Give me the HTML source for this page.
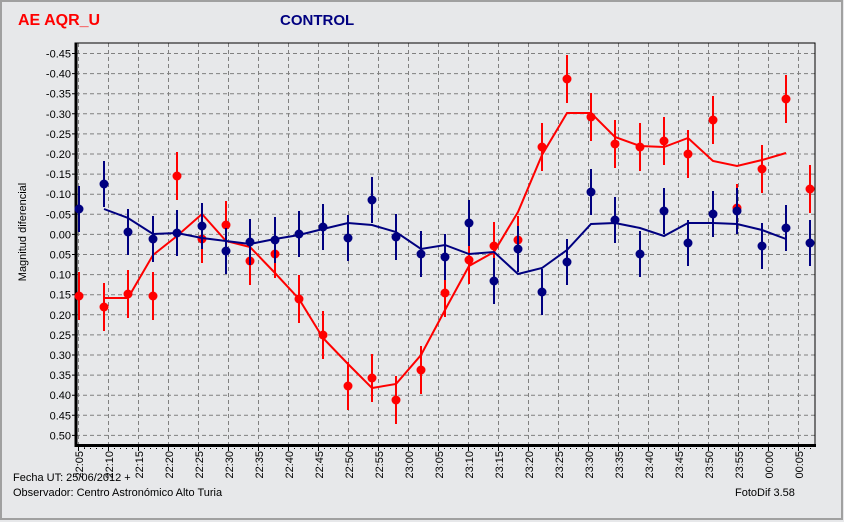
<!DOCTYPE html>
<html><head><meta charset="utf-8"><style>
html,body{margin:0;padding:0;background:#e7e8ea;}
svg{display:block;font-family:"Liberation Sans",sans-serif;}
</style></head><body>
<svg width="844" height="522" viewBox="0 0 844 522" xmlns="http://www.w3.org/2000/svg">
<rect x="0" y="0" width="844" height="522" fill="#e7e8ea"/>
<rect x="1" y="1" width="841" height="518" fill="none" stroke="#a0a0a0" stroke-width="2"/>
<text x="18" y="25" font-size="16" font-weight="bold" fill="#ff0000">AE AQR_U</text>
<text x="280" y="25" font-size="15" font-weight="bold" fill="#000080">CONTROL</text>
<!-- grid -->
<g stroke="#808080" stroke-width="1" stroke-dasharray="4,3" fill="none">
<path d="M76 53.5H815M76 73.6H815M76 93.7H815M76 113.8H815M76 133.9H815M76 154H815M76 174.1H815M76 194.2H815M76 214.3H815M76 234.4H815M76 254.5H815M76 274.6H815M76 294.7H815M76 314.8H815M76 334.9H815M76 355H815M76 375.1H815M76 395.2H815M76 415.3H815M76 435.4H815"/>
<path d="M78.5 43V445M108.5 43V445M138.5 43V445M168.5 43V445M198.5 43V445M228.5 43V445M258.5 43V445M288.5 43V445M318.5 43V445M348.5 43V445M378.5 43V445M408.5 43V445M438.5 43V445M468.5 43V445M498.5 43V445M528.5 43V445M558.5 43V445M588.5 43V445M618.5 43V445M648.5 43V445M678.5 43V445M708.5 43V445M738.5 43V445M768.5 43V445M798.5 43V445"/>
</g>
<!-- axes -->
<rect x="75" y="43" width="740" height="402" fill="none" stroke="#000" stroke-width="1"/>
<line x1="76" y1="43" x2="76" y2="447" stroke="#000" stroke-width="3"/>
<line x1="75" y1="445.5" x2="816" y2="445.5" stroke="#000" stroke-width="3"/>
<g stroke="#000" stroke-width="1">
<path d="M72 53.5h3M72 73.6h3M72 93.7h3M72 113.8h3M72 133.9h3M72 154h3M72 174.1h3M72 194.2h3M72 214.3h3M72 234.4h3M72 254.5h3M72 274.6h3M72 294.7h3M72 314.8h3M72 334.9h3M72 355h3M72 375.1h3M72 395.2h3M72 415.3h3M72 435.4h3"/>
</g>
<g stroke="#555" stroke-width="1" stroke-dasharray="1,5">
<path d="M78.5 447v3M84.5 447v3"/>
</g>
<path d="M78.5 447v4M108.5 447v4M138.5 447v4M168.5 447v4M198.5 447v4M228.5 447v4M258.5 447v4M288.5 447v4M318.5 447v4M348.5 447v4M378.5 447v4M408.5 447v4M438.5 447v4M468.5 447v4M498.5 447v4M528.5 447v4M558.5 447v4M588.5 447v4M618.5 447v4M648.5 447v4M678.5 447v4M708.5 447v4M738.5 447v4M768.5 447v4M798.5 447v4" stroke="#000"/>
<line x1="78" y1="448.5" x2="815" y2="448.5" stroke="#000" stroke-dasharray="1,5"/>
<!-- y labels -->
<g font-size="11" fill="#000" text-anchor="end">
<text x="71" y="57.5">-0.45</text><text x="71" y="77.6">-0.40</text><text x="71" y="97.7">-0.35</text><text x="71" y="117.8">-0.30</text><text x="71" y="137.9">-0.25</text><text x="71" y="158">-0.20</text><text x="71" y="178.1">-0.15</text><text x="71" y="198.2">-0.10</text><text x="71" y="218.3">-0.05</text><text x="71" y="238.4">0.00</text><text x="71" y="258.5">0.05</text><text x="71" y="278.6">0.10</text><text x="71" y="298.7">0.15</text><text x="71" y="318.8">0.20</text><text x="71" y="338.9">0.25</text><text x="71" y="359">0.30</text><text x="71" y="379.1">0.35</text><text x="71" y="399.2">0.40</text><text x="71" y="419.3">0.45</text><text x="71" y="439.4">0.50</text>
</g>
<text transform="translate(26,232) rotate(-90)" font-size="11" text-anchor="middle">Magnitud diferencial</text>
<!-- x labels -->
<g font-size="11" text-anchor="end">
<text transform="translate(83,451) rotate(-90)">22:05</text><text transform="translate(113,451) rotate(-90)">22:10</text><text transform="translate(143,451) rotate(-90)">22:15</text><text transform="translate(173,451) rotate(-90)">22:20</text><text transform="translate(203,451) rotate(-90)">22:25</text><text transform="translate(233,451) rotate(-90)">22:30</text><text transform="translate(263,451) rotate(-90)">22:35</text><text transform="translate(293,451) rotate(-90)">22:40</text><text transform="translate(323,451) rotate(-90)">22:45</text><text transform="translate(353,451) rotate(-90)">22:50</text><text transform="translate(383,451) rotate(-90)">22:55</text><text transform="translate(413,451) rotate(-90)">23:00</text><text transform="translate(443,451) rotate(-90)">23:05</text><text transform="translate(473,451) rotate(-90)">23:10</text><text transform="translate(503,451) rotate(-90)">23:15</text><text transform="translate(533,451) rotate(-90)">23:20</text><text transform="translate(563,451) rotate(-90)">23:25</text><text transform="translate(593,451) rotate(-90)">23:30</text><text transform="translate(623,451) rotate(-90)">23:35</text><text transform="translate(653,451) rotate(-90)">23:40</text><text transform="translate(683,451) rotate(-90)">23:45</text><text transform="translate(713,451) rotate(-90)">23:50</text><text transform="translate(743,451) rotate(-90)">23:55</text><text transform="translate(773,451) rotate(-90)">00:00</text><text transform="translate(803,451) rotate(-90)">00:05</text>
</g>
<g font-size="11" fill="#000">
<text x="13" y="481">Fecha UT: 25/06/2012 +</text>
<text x="13" y="496">Observador: Centro Astronómico Alto Turia</text>
<text x="735" y="496">FotoDif 3.58</text>
</g>
<!-- red series -->
<path stroke="#ff0000" stroke-width="2" fill="none" d="M79 272v48M104 283v48M128 270v48M153 272v48M177 152v48M202 215v48M226 201v48M250 237v48M275 230v48M299 275v48M323 311v48M348 362v48M372 354v48M396 376v48M421 346v48M445 269v48M469 236v48M494 222v48M518 216v48M542 123v48M567 55v48M591 93v48M615 120v48M640 123v48M664 117v48M688 130v48M713 96v48M737 184v48M762 145v48M786 75v48M810 165v48"/>
<g fill="#ff0000">
<circle cx="79" cy="296" r="4.5"/><circle cx="104" cy="307" r="4.5"/><circle cx="128" cy="294" r="4.5"/><circle cx="153" cy="296" r="4.5"/><circle cx="177" cy="176" r="4.5"/><circle cx="202" cy="239" r="4.5"/><circle cx="226" cy="225" r="4.5"/><circle cx="250" cy="261" r="4.5"/><circle cx="275" cy="254" r="4.5"/><circle cx="299" cy="299" r="4.5"/><circle cx="323" cy="335" r="4.5"/><circle cx="348" cy="386" r="4.5"/><circle cx="372" cy="378" r="4.5"/><circle cx="396" cy="400" r="4.5"/><circle cx="421" cy="370" r="4.5"/><circle cx="445" cy="293" r="4.5"/><circle cx="469" cy="260" r="4.5"/><circle cx="494" cy="246" r="4.5"/><circle cx="518" cy="240" r="4.5"/><circle cx="542" cy="147" r="4.5"/><circle cx="567" cy="79" r="4.5"/><circle cx="591" cy="117" r="4.5"/><circle cx="615" cy="144" r="4.5"/><circle cx="640" cy="147" r="4.5"/><circle cx="664" cy="141" r="4.5"/><circle cx="688" cy="154" r="4.5"/><circle cx="713" cy="120" r="4.5"/><circle cx="737" cy="208" r="4.5"/><circle cx="762" cy="169" r="4.5"/><circle cx="786" cy="99" r="4.5"/><circle cx="810" cy="189" r="4.5"/>
</g>
<polyline stroke="#ff0000" stroke-width="2" fill="none" points="104,298 128,298 153,255 177,236 202,214 226,241 250,247 275,273 299,299 323,338 348,364 372,388 396,384 421,355 445,310 469,266 494,252 518,212 542,155 567,113 591,113 615,137 640,146 664,147 688,138 713,161 737,166 762,160 786,153"/>
<!-- navy series -->
<path stroke="#000080" stroke-width="2" fill="none" d="M79 186v46M104 161v46M128 209v46M153 216v46M177 210v46M202 203v46M226 228v46M250 219v46M275 217v46M299 211v46M323 204v46M348 215v46M372 177v46M396 214v46M421 231v46M445 234v46M469 200v46M494 258v46M518 226v46M542 269v46M567 239v46M591 169v46M615 197v46M640 231v46M664 188v46M688 220v46M713 191v46M737 188v46M762 223v46M786 205v46M810 220v46"/>
<g fill="#000080">
<circle cx="79" cy="209" r="4.5"/><circle cx="104" cy="184" r="4.5"/><circle cx="128" cy="232" r="4.5"/><circle cx="153" cy="239" r="4.5"/><circle cx="177" cy="233" r="4.5"/><circle cx="202" cy="226" r="4.5"/><circle cx="226" cy="251" r="4.5"/><circle cx="250" cy="242" r="4.5"/><circle cx="275" cy="240" r="4.5"/><circle cx="299" cy="234" r="4.5"/><circle cx="323" cy="227" r="4.5"/><circle cx="348" cy="238" r="4.5"/><circle cx="372" cy="200" r="4.5"/><circle cx="396" cy="237" r="4.5"/><circle cx="421" cy="254" r="4.5"/><circle cx="445" cy="257" r="4.5"/><circle cx="469" cy="223" r="4.5"/><circle cx="494" cy="281" r="4.5"/><circle cx="518" cy="249" r="4.5"/><circle cx="542" cy="292" r="4.5"/><circle cx="567" cy="262" r="4.5"/><circle cx="591" cy="192" r="4.5"/><circle cx="615" cy="220" r="4.5"/><circle cx="640" cy="254" r="4.5"/><circle cx="664" cy="211" r="4.5"/><circle cx="688" cy="243" r="4.5"/><circle cx="713" cy="214" r="4.5"/><circle cx="737" cy="211" r="4.5"/><circle cx="762" cy="246" r="4.5"/><circle cx="786" cy="228" r="4.5"/><circle cx="810" cy="243" r="4.5"/>
</g>
<polyline stroke="#000080" stroke-width="2" fill="none" points="104,209 128,218 153,234 177,233 202,238 226,241 250,244 275,239 299,235 323,229 348,223 372,225 396,232 421,249 445,245 469,254 494,252 518,274 542,268 567,250 591,224 615,223 640,228 664,236 688,223 713,223 737,224 762,230 786,239"/>
</svg>
</body></html>
